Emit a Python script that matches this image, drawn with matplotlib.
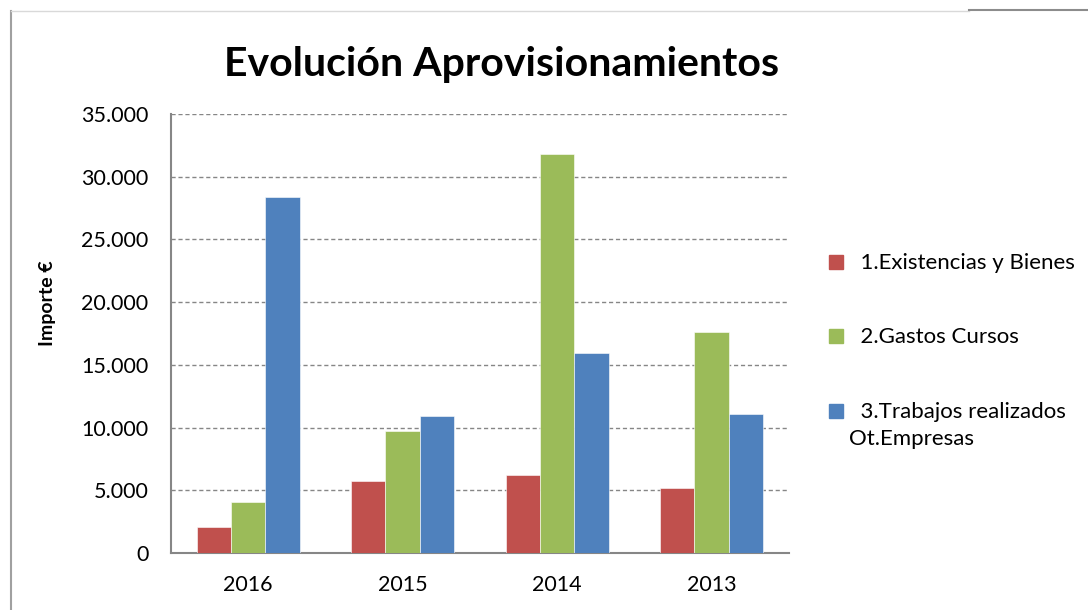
import matplotlib.pyplot as plt
import matplotlib.lines as mlines
import matplotlib.patches as mpatches
import numpy as np

plt.rcParams['font.family'] = ['Lato', 'DejaVu Sans']

# datos
anios = ['2016', '2015', '2014', '2013']
existencias = [2050, 5750, 6200, 5200]
gastos_cursos = [4050, 9700, 31850, 17650]
trabajos = [28350, 10900, 15950, 11100]
series = ['  1.Existencias y Bienes', '  2.Gastos Cursos', '  3.Trabajos realizados\nOt.Empresas']
colores = ['#c0504d', '#9bbb59', '#4f81bd']
yticks = [0, 5000, 10000, 15000, 20000, 25000, 30000, 35000]
ytick_labels = ['0', '5.000', '10.000', '15.000', '20.000', '25.000', '30.000', '35.000']

W, H = 1088, 610
fig = plt.figure(figsize=(W / 100, H / 100), dpi=100)
ax = fig.add_axes([0.157, 0.0934, 0.568, 0.7196])

x = np.arange(len(anios))
ancho = 0.222
for i, (vals, lab, col) in enumerate(zip([existencias, gastos_cursos, trabajos], series, colores)):
    ax.bar(x + (i - 1) * ancho, vals, ancho, color=col, label=lab, zorder=3,
           edgecolor='white', linewidth=0.4)

ax.set_xlim(-0.5, 3.5)
ax.set_ylim(0, 35000)
ax.set_xticks(x)
ax.set_xticklabels(anios, fontsize=15.5)
ax.set_yticks(yticks)
ax.set_yticklabels(ytick_labels, fontsize=15.5)
ax.tick_params(axis='y', length=0, pad=16)
ax.tick_params(axis='x', length=0, pad=16)
ax.grid(axis='y', color='#868686', linestyle=(0, (3, 2)), linewidth=1, zorder=0)
for s in ['top', 'right']:
    ax.spines[s].set_visible(False)
for s in ['left', 'bottom']:
    ax.spines[s].set_color('#868686')
    ax.spines[s].set_linewidth(1.5)
ax.set_ylabel('Importe €', fontsize=14, fontweight='bold')
ax.yaxis.set_label_coords(-0.186, 0.569)

fig.text(0.461, 0.895, 'Evolución Aprovisionamientos', fontsize=29.5, fontweight='bold',
         ha='center', va='center')

# leyenda
filas_y = [262, 336, 411]
for lab, col, yy in zip(series, colores, filas_y):
    fig.add_artist(mpatches.Rectangle((829 / W, 1 - (yy + 7) / H), 14 / W, 14 / H,
                                      color=col, transform=fig.transFigure))
    fig.text(849 / W, 1 - (yy - 9) / H, lab, fontsize=16, ha='left', va='top',
             linespacing=1.45)

# marco del gráfico
fig.add_artist(mlines.Line2D([10.5 / W, 10.5 / W], [0, 1 - 11 / H], color='#a0a0a0', lw=1.5))
fig.add_artist(mlines.Line2D([10.5 / W, 969 / W], [1 - 11 / H, 1 - 11 / H], color='#d9d9d9', lw=1))
fig.add_artist(mlines.Line2D([969 / W, 1], [1 - 10 / H, 1 - 10 / H], color='#8c8c8c', lw=1.5))

fig.savefig('out.png', dpi=100)
